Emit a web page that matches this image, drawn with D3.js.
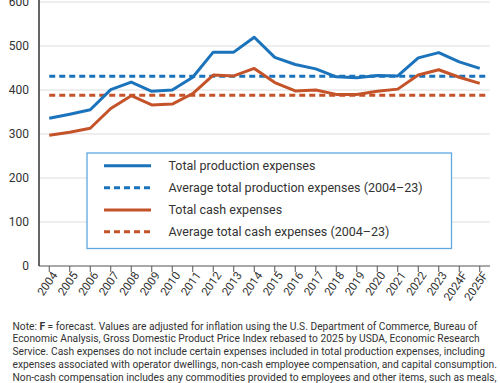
<!DOCTYPE html>
<html><head><meta charset="utf-8">
<script src="https://cdn.jsdelivr.net/npm/d3@7"></script>
<style>
html,body{margin:0;padding:0;background:#fff;}
svg{display:block;font-family:Roboto, "Noto Sans", sans-serif;}
</style></head>
<body><svg id="c" width="500" height="383"></svg>
<script>
const years = ["2004","2005","2006","2007","2008","2009","2010","2011","2012","2013","2014","2015","2016","2017","2018","2019","2020","2021","2022","2023","2024F","2025F"];
const totalProduction = [336,345,355,401,418,397,400,429,486,486,520,474,458,448,430,428,433,432,473,485,464,449];
const totalCash = [297,304,313,358,387,366,368,392,434,432,449,417,398,400,390,390,397,402,434,446,429,415];
const avgProduction = 431;
const avgCash = 388;
const yTicks = [0,100,200,300,400,500,600];
const legendLabels = ["Total production expenses","Average total production expenses (2004–23)","Total cash expenses","Average total cash expenses (2004–23)"];
const noteLines = [
 "Values are adjusted for inflation using the U.S. Department of Commerce, Bureau of",
 "Economic Analysis, Gross Domestic Product Price Index rebased to 2025 by USDA, Economic Research",
 "Service. Cash expenses do not include certain expenses included in total production expenses, including",
 "expenses associated with operator dwellings, non-cash employee compensation, and capital consumption.",
 "Non-cash compensation includes any commodities provided to employees and other items, such as meals,"
];

const blue = "#1b73bb", orange = "#c4532a";
const svg = d3.select("#c");
const L = 39, R = 490, T = 2, B = 266;
const x = d3.scaleBand().domain(years).range([L, R]);
const xc = d => x(d) + x.bandwidth()/2;
const y = d3.scaleLinear().domain([0,600]).range([B, T]);

// grid
svg.append("g").selectAll("line").data(yTicks.filter(d=>d>0)).join("line")
  .attr("x1", L).attr("x2", R).attr("y1", d=>y(d)).attr("y2", d=>y(d))
  .attr("stroke", "#dedede").attr("stroke-width", 1.2);

// y labels
svg.append("g").selectAll("text").data(yTicks).join("text")
  .attr("x", 29).attr("y", d=>y(d)).attr("dy","0.35em").attr("text-anchor","end")
  .attr("font-size", 12).attr("fill","#333").text(d=>d);

// x axis
const xa = svg.append("g").attr("transform", `translate(0,${B})`)
  .call(d3.axisBottom(x).tickSize(6).tickSizeOuter(0));
xa.select(".domain").attr("stroke","#555").attr("stroke-width",1.2).attr("d", `M${L},0H${R}`);
xa.selectAll(".tick line").attr("stroke","#555");
xa.selectAll(".tick text").attr("font-size", 11.5).attr("fill","#333")
  .attr("font-family","Roboto, sans-serif")
  .attr("text-anchor","end").attr("transform","translate(4,6) rotate(-55)").attr("dy","0.5em").attr("y",0).attr("x",0);

// y axis line
svg.append("line").attr("x1",L).attr("x2",L).attr("y1",0).attr("y2",B)
  .attr("stroke","#333").attr("stroke-width",1.5);

// average lines
const avgX1 = xc(years[0]), avgX2 = R - 2;
svg.append("line").attr("x1",avgX1).attr("x2",avgX2).attr("y1",y(avgProduction)).attr("y2",y(avgProduction))
  .attr("stroke",blue).attr("stroke-width",3).attr("stroke-dasharray","6,4");
svg.append("line").attr("x1",avgX1).attr("x2",avgX2).attr("y1",y(avgCash)).attr("y2",y(avgCash))
  .attr("stroke",orange).attr("stroke-width",3).attr("stroke-dasharray","6,4");

const line = d3.line().x((d,i)=>xc(years[i])).y(d=>y(d));
svg.append("path").attr("d", line(totalCash)).attr("fill","none").attr("stroke",orange).attr("stroke-width",3).attr("stroke-linejoin","round");
svg.append("path").attr("d", line(totalProduction)).attr("fill","none").attr("stroke",blue).attr("stroke-width",3).attr("stroke-linejoin","round");

// legend
const lg = svg.append("g");
lg.append("rect").attr("x",87).attr("y",153).attr("width",364.5).attr("height",95.5)
  .attr("fill","#fff").attr("stroke","#5fa8e0").attr("stroke-width",1.3);
const rows = [165.7, 187.7, 210, 231.7];
const lcol = [blue, blue, orange, orange];
const ldash = [null, "6,4", null, "6,4"];
legendLabels.forEach((t,i)=>{
  lg.append("line").attr("x1",104).attr("x2",151).attr("y1",rows[i]).attr("y2",rows[i])
    .attr("stroke",lcol[i]).attr("stroke-width",3).attr("stroke-dasharray",ldash[i]);
  lg.append("text").attr("x",168.5).attr("y",rows[i]).attr("dy","0.35em")
    .attr("font-size",12.5).attr("fill","#333").text(t);
});

// note
const note = svg.append("g").attr("font-size",11).attr("fill","#333");
// size to fit the reference width (line 4 spans ~485px)
const probe = note.append("text").text(noteLines[3]);
const fs = 11 * 485 / probe.node().getComputedTextLength();
probe.remove();
note.attr("font-size", fs);
const n0 = note.append("text").attr("x",12.5).attr("y",326).attr("dy","0.35em");
n0.append("tspan").text("Note: ");
n0.append("tspan").attr("font-weight","bold").text("F");
n0.append("tspan").text(" = forecast. " + noteLines[0]);
noteLines.slice(1).forEach((t,i)=>{
  note.append("text").attr("x",12.5).attr("y",326 + (i+1)*12.85).attr("dy","0.35em").text(t);
});
</script></body></html>
